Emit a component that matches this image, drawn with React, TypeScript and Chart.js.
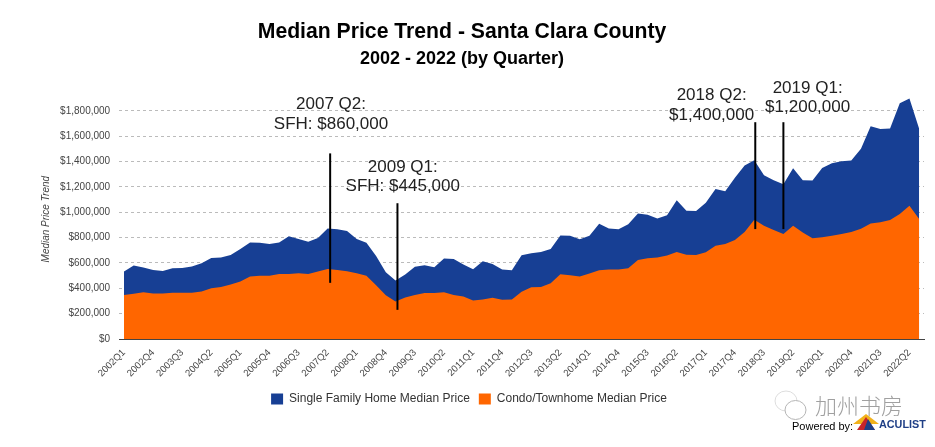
import { useEffect, useRef } from 'react';
import Chart from 'chart.js/auto';

const quarters = [
  '2002Q1', '2002Q2', '2002Q3', '2002Q4', '2003Q1', '2003Q2', '2003Q3', '2003Q4',
  '2004Q1', '2004Q2', '2004Q3', '2004Q4', '2005Q1', '2005Q2', '2005Q3', '2005Q4',
  '2006Q1', '2006Q2', '2006Q3', '2006Q4', '2007Q1', '2007Q2', '2007Q3', '2007Q4',
  '2008Q1', '2008Q2', '2008Q3', '2008Q4', '2009Q1', '2009Q2', '2009Q3', '2009Q4',
  '2010Q1', '2010Q2', '2010Q3', '2010Q4', '2011Q1', '2011Q2', '2011Q3', '2011Q4',
  '2012Q1', '2012Q2', '2012Q3', '2012Q4', '2013Q1', '2013Q2', '2013Q3', '2013Q4',
  '2014Q1', '2014Q2', '2014Q3', '2014Q4', '2015Q1', '2015Q2', '2015Q3', '2015Q4',
  '2016Q1', '2016Q2', '2016Q3', '2016Q4', '2017Q1', '2017Q2', '2017Q3', '2017Q4',
  '2018Q1', '2018Q2', '2018Q3', '2018Q4', '2019Q1', '2019Q2', '2019Q3', '2019Q4',
  '2020Q1', '2020Q2', '2020Q3', '2020Q4', '2021Q1', '2021Q2', '2021Q3', '2021Q4',
  '2022Q1', '2022Q2', '2022Q3',
];

const sfhPrices = [
  532000, 579000, 563000, 545000, 537000, 558000, 561000, 571000,
  597000, 639000, 642000, 663000, 710000, 762000, 760000, 749000,
  762000, 810000, 789000, 768000, 796000, 872000, 865000, 851000,
  789000, 760000, 655000, 527000, 461000, 508000, 569000, 582000,
  566000, 634000, 631000, 587000, 550000, 613000, 592000, 548000,
  542000, 660000, 676000, 686000, 710000, 817000, 815000, 786000,
  815000, 909000, 872000, 865000, 906000, 990000, 980000, 951000,
  977000, 1095000, 1011000, 1009000, 1074000, 1184000, 1166000, 1271000,
  1368000, 1410000, 1292000, 1252000, 1221000, 1347000, 1252000, 1250000,
  1349000, 1386000, 1402000, 1407000, 1501000, 1679000, 1656000, 1661000,
  1860000, 1897000, 1658000,
];

const condoPrices = [
  348000, 356000, 369000, 359000, 359000, 364000, 364000, 364000,
  375000, 400000, 411000, 430000, 453000, 493000, 498000, 498000,
  513000, 513000, 519000, 513000, 532000, 553000, 545000, 534000,
  519000, 498000, 424000, 346000, 296000, 327000, 348000, 362000,
  362000, 369000, 348000, 335000, 304000, 312000, 325000, 309000,
  312000, 372000, 409000, 411000, 440000, 511000, 503000, 493000,
  516000, 542000, 548000, 548000, 558000, 624000, 637000, 642000,
  658000, 686000, 665000, 663000, 684000, 736000, 749000, 781000,
  844000, 940000, 893000, 859000, 828000, 893000, 841000, 794000,
  802000, 815000, 828000, 844000, 870000, 912000, 920000, 938000,
  985000, 1051000, 946000,
];

// callouts: position on the quarter axis, line extent and label text
const calloutIndex = [21.26, 28.2, 65.1, 68];
const calloutLineTop = [1464000, 1071000, 1710000, 1710000];
const calloutLineBottom = [443000, 230000, 867000, 867000];
const calloutFirstLine = ['2007 Q2:', '2009 Q1:', '2018 Q2:', '2019 Q1:'];
const calloutSecondLine = ['SFH: $860,000', 'SFH: $445,000', '$1,400,000', '$1,200,000'];
const calloutLabelIndex = [21.35, 28.75, 60.6, 70.5];
const calloutLabelValue = [1850000, 1355000, 1920000, 1980000];

const calloutPlugin = {
  id: 'callouts',
  afterDatasetsDraw(chart: any) {
    const { ctx, scales: { x, y } } = chart;
    ctx.save();
    ctx.strokeStyle = '#000000';
    ctx.lineWidth = 2;
    calloutIndex.forEach((idx, i) => {
      ctx.beginPath();
      ctx.moveTo(x.getPixelForValue(idx), y.getPixelForValue(calloutLineTop[i]));
      ctx.lineTo(x.getPixelForValue(idx), y.getPixelForValue(calloutLineBottom[i]));
      ctx.stroke();
    });
    ctx.font = '17px "Liberation Sans", Arial, sans-serif';
    ctx.fillStyle = '#222222';
    ctx.textAlign = 'center';
    ctx.textBaseline = 'middle';
    calloutLabelIndex.forEach((idx, i) => {
      const px = x.getPixelForValue(idx);
      const py = y.getPixelForValue(calloutLabelValue[i]);
      ctx.fillText(calloutFirstLine[i], px, py);
      ctx.fillText(calloutSecondLine[i], px, py + 19.5);
    });

    // y axis title sits lower than the scale's own centre, so it is placed by hand
    ctx.translate(46, y.getPixelForValue(945000));
    ctx.rotate(-Math.PI / 2);
    ctx.font = 'italic 10px "Liberation Sans", Arial, sans-serif';
    ctx.fillStyle = '#444444';
    ctx.fillText('Median Price Trend', 0, 0);
    ctx.restore();
  },
};

// legend is not quite centred in the reference
const legendShiftPlugin = {
  id: 'legendShift',
  afterLayout(chart: any) {
    chart.legend.left += 7;
    chart.legend.right += 7;
  },
};

// watermark and logo in the bottom right corner
const footerPlugin = {
  id: 'footer',
  afterDraw(chart: any) {
    const { ctx } = chart;
    ctx.save();
    ctx.textBaseline = 'middle';
    ctx.textAlign = 'left';

    ctx.strokeStyle = '#dddddd';
    ctx.lineWidth = 1;
    ctx.beginPath();
    ctx.ellipse(786, 401, 11, 10, 0, 0, Math.PI * 2);
    ctx.stroke();
    ctx.fillStyle = '#ffffff';
    ctx.strokeStyle = '#b5b5b5';
    ctx.beginPath();
    ctx.ellipse(795.5, 410, 10.5, 9.5, 0, 0, Math.PI * 2);
    ctx.fill();
    ctx.stroke();

    ctx.fillStyle = '#a0a0a0';
    ctx.font = '300 22px "Noto Sans CJK SC", sans-serif';
    ctx.fillText('加州书房', 815, 406);

    ctx.fillStyle = '#000000';
    ctx.font = '11px "Liberation Sans", Arial, sans-serif';
    ctx.fillText('Powered by:', 792, 427);

    ctx.fillStyle = '#f2b21b';
    ctx.beginPath();
    ctx.moveTo(866, 414);
    ctx.lineTo(879, 424);
    ctx.lineTo(853, 424);
    ctx.closePath();
    ctx.fill();
    ctx.fillStyle = '#c8242b';
    ctx.beginPath();
    ctx.moveTo(866, 417);
    ctx.lineTo(875, 430);
    ctx.lineTo(857, 430);
    ctx.closePath();
    ctx.fill();
    ctx.fillStyle = '#1f3f86';
    ctx.beginPath();
    ctx.moveTo(868, 419);
    ctx.lineTo(875, 430);
    ctx.lineTo(864, 430);
    ctx.closePath();
    ctx.fill();

    ctx.font = 'bold 10.8px "Liberation Sans", Arial, sans-serif';
    ctx.fillStyle = '#1f3f86';
    ctx.fillText('ACULIST', 879, 425);
    ctx.restore();
  },
};

const App = () => {
  const chartRef = useRef<HTMLCanvasElement>(null);

  useEffect(() => {
    if (!chartRef.current) return;
    const chart = new Chart(chartRef.current, {
      type: 'line',
      data: {
        labels: quarters,
        datasets: [
          {
            label: 'Single Family Home Median Price',
            data: sfhPrices,
            backgroundColor: '#173f94',
            borderColor: '#173f94',
            borderWidth: 0,
            pointRadius: 0,
            tension: 0,
            fill: 'origin',
            order: 1,
          },
          {
            label: 'Condo/Townhome Median Price',
            data: condoPrices,
            backgroundColor: '#ff6600',
            borderColor: '#ff6600',
            borderWidth: 0,
            pointRadius: 0,
            tension: 0,
            fill: 'origin',
            order: 0,
          },
        ],
      },
      options: {
        responsive: false,
        animation: false,
        layout: { padding: { right: 11, bottom: 32 } },
        plugins: {
          title: {
            display: true,
            text: 'Median Price Trend - Santa Clara County',
            color: '#000000',
            font: { family: '"Liberation Sans", Arial, sans-serif', size: 21.2, weight: 'bold' },
            padding: { top: 19, bottom: 4 },
          },
          subtitle: {
            display: true,
            text: '2002 - 2022 (by Quarter)',
            color: '#000000',
            font: { family: '"Liberation Sans", Arial, sans-serif', size: 18, weight: 'bold' },
            padding: { top: 0, bottom: 15.4 },
          },
          legend: {
            position: 'bottom',
            labels: {
              boxWidth: 12,
              boxHeight: 11,
              padding: 9,
              color: '#333333',
              font: { family: '"Liberation Sans", Arial, sans-serif', size: 12 },
              sort: (a: any, b: any) => a.datasetIndex - b.datasetIndex,
            },
          },
          tooltip: { enabled: false },
        },
        scales: {
          x: {
            offset: true,
            afterFit: (scale: any) => { scale.height = 45; },
            grid: { display: false },
            border: { display: true, color: '#444444', width: 1, z: 1 },
            ticks: {
              autoSkip: false,
              maxRotation: 45,
              minRotation: 45,
              padding: 0,
              color: '#444444',
              font: { family: '"Liberation Sans", Arial, sans-serif', size: 9.6 },
              callback(this: any, value: any, index: number) {
                return index % 3 === 0 ? this.getLabelForValue(value) : '';
              },
            },
          },
          y: {
            min: 0,
            max: 2000000,
            afterFit: (scale: any) => { scale.width = 119.15; },
            afterBuildTicks: (scale: any) => {
              scale.ticks = scale.ticks.filter((t: any) => t.value <= 1800000);
            },
            grid: {
              color: '#bbbbbb',
              drawTicks: false,
            },
            border: { display: false, dash: [3, 3] },
            ticks: {
              stepSize: 200000,
              padding: 9,
              color: '#444444',
              font: { family: '"Liberation Sans", Arial, sans-serif', size: 10 },
              callback: (value: any) => '$' + Number(value).toLocaleString('en-US'),
            },
          },
        },
      },
      plugins: [calloutPlugin, legendShiftPlugin, footerPlugin],
    } as any);

    return () => {
      chart.destroy();
    };
  }, []);

  return (
    <div style={{ position: 'absolute', left: 0, top: 0, width: 935, height: 447, background: '#ffffff' }}>
      <canvas ref={chartRef} width={935} height={447} style={{ display: 'block' }} />
    </div>
  );
};

export default App;
